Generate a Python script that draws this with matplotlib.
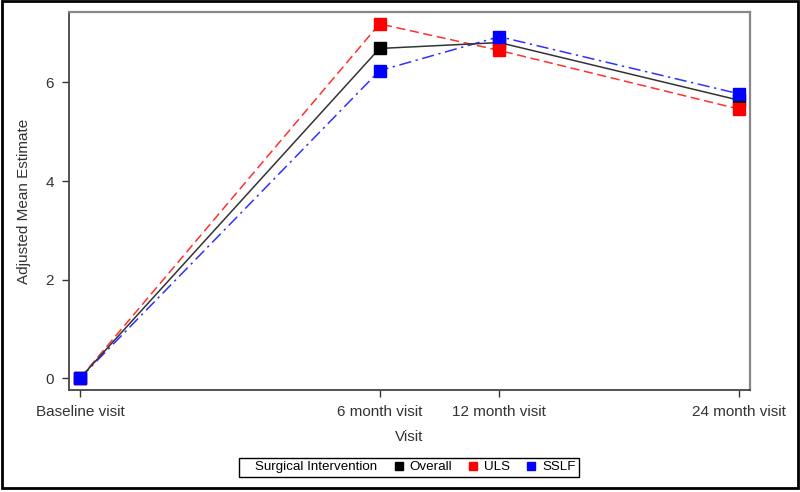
import matplotlib.pyplot as plt
from matplotlib.lines import Line2D
from matplotlib.patches import Rectangle

plt.rcParams['font.family'] = ['Liberation Sans', 'DejaVu Sans']

# visits and their position on the x axis
visits = ['Baseline visit', '6 month visit', '12 month visit', '24 month visit']
visit_pos = [0, 15, 21, 33]

# adjusted mean estimates per group
overall = [0.0, 6.69, 6.81, 5.64]
uls = [0.0, 7.19, 6.65, 5.46]
sslf = [0.0, 6.24, 6.93, 5.77]

fig = plt.figure(figsize=(8, 4.92), dpi=100)
ax = fig.add_axes([0.08625, 0.2073, 0.85125, 0.7683])

ax.plot(visit_pos, uls, color='#ff3030', ls=(0, (6, 3)), lw=1.1, zorder=2)
ax.plot(visit_pos, sslf, color='#3030ff', ls=(0, (8, 3, 1.5, 3)), lw=1.1, zorder=2)
ax.plot(visit_pos, overall, color='#333333', ls='-', lw=1.1, zorder=3)
ax.plot(visit_pos, overall, 's', color='black', ms=8.5, zorder=4)
ax.plot(visit_pos, uls, 's', color='#ff0000', ms=8.5, zorder=4)
ax.plot(visit_pos, sslf, 's', color='#0000ff', ms=8.5, zorder=5)

ax.set_xlim(-0.55, 33.55)
ax.set_ylim(-0.24, 7.43)
ax.set_xticks(visit_pos)
ax.set_xticklabels(visits)
ax.set_yticks([0, 2, 4, 6])
ax.tick_params(labelsize=11, colors='#333333', length=5, width=1, pad=6)
ax.set_xlabel('Visit', fontsize=11, color='#333333', labelpad=8)
ax.set_ylabel('Adjusted Mean Estimate', fontsize=11, color='#333333', labelpad=10)
for side in ['left', 'bottom']:
    ax.spines[side].set_color('#444444')
    ax.spines[side].set_linewidth(1.3)
for side in ['top', 'right']:
    ax.spines[side].set_color('#888888')
    ax.spines[side].set_linewidth(1.6)

handles = [Line2D([], [], ls='none')]
labels = ['Surgical Intervention']
for c, name in [('black', 'Overall'), ('#ff0000', 'ULS'), ('#0000ff', 'SSLF')]:
    handles.append(Line2D([], [], ls='none', marker='s', color=c, ms=6))
    labels.append(name)
fig.legend(handles, labels, loc='center', bbox_to_anchor=(0.511, 0.0508), ncol=4,
           fontsize=9.6, frameon=True, fancybox=False, edgecolor='black',
           handlelength=0.4, handletextpad=0.6, columnspacing=1.4,
           borderpad=0.25, framealpha=1).get_frame().set_linewidth(1.0)

# outer border of the picture
fig.patches.append(Rectangle((0.002, 0.008), 0.995, 0.99, transform=fig.transFigure,
                             fill=False, edgecolor='black', lw=2))

fig.savefig('out.png', dpi=100)
